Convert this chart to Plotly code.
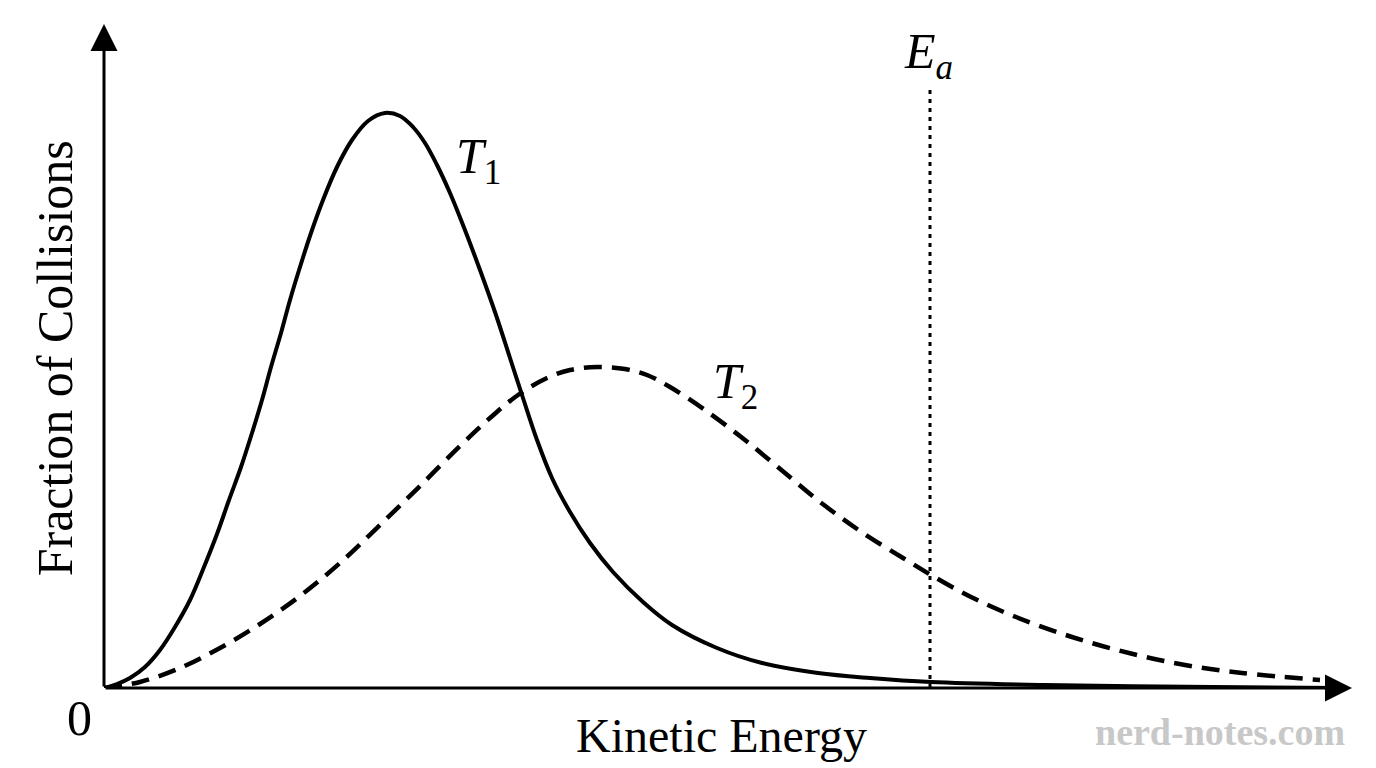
import plotly.graph_objects as go

# curves (energy in arbitrary units)
t1_energy = [0, 0.13, 0.26, 0.41, 0.56, 0.71, 0.86, 1.00, 1.13, 1.25, 1.37, 1.48, 1.58, 1.67,
             1.77, 1.86, 1.96, 2.07, 2.19, 2.33, 2.48, 2.64, 2.81, 2.96, 3.09, 3.21, 3.33,
             3.46, 3.59, 3.76, 3.92, 4.06, 4.19, 4.33, 4.48, 4.66, 4.86, 5.09, 5.39, 5.68,
             6.13, 6.58, 7.14, 7.66, 8.27, 9.40, 11.09, 12.36]
t1_fraction = [0, 0.04, 0.10, 0.21, 0.38, 0.61, 0.88, 1.21, 1.54, 1.88, 2.21, 2.55, 2.88, 3.21,
               3.55, 3.88, 4.21, 4.55, 4.88, 5.21, 5.48, 5.67, 5.75, 5.72, 5.61, 5.45, 5.23,
               4.95, 4.63, 4.18, 3.73, 3.30, 2.90, 2.48, 2.10, 1.76, 1.45, 1.16, 0.86, 0.63,
               0.40, 0.25, 0.15, 0.10, 0.06, 0.03, 0.01, 0.0]

t2_energy = [0, 0.36, 0.76, 1.16, 1.56, 1.96, 2.36, 2.76, 3.16, 3.56, 3.86, 4.14, 4.43, 4.66,
             4.93, 5.21, 5.43, 5.66, 6.01, 6.41, 6.81, 7.20, 7.59, 7.99, 8.27, 8.67, 9.12,
             9.68, 10.25, 10.81, 11.38, 12.16]
t2_fraction = [0, 0.06, 0.20, 0.40, 0.64, 0.92, 1.25, 1.63, 2.02, 2.42, 2.70, 2.93, 3.10, 3.18,
               3.21, 3.19, 3.13, 3.01, 2.78, 2.48, 2.15, 1.83, 1.55, 1.30, 1.13, 0.91, 0.71,
               0.51, 0.35, 0.23, 0.15, 0.08]

ea_energy = 8.26
ea_top = 5.98

x_max = 12.48
y_max = 6.64

serif = "Liberation Serif"

fig = go.Figure()

fig.add_trace(go.Scatter(
    x=t1_energy, y=t1_fraction, mode='lines',
    line=dict(color='black', width=4, shape='spline', smoothing=1.0),
    cliponaxis=False, name='T1'
))
fig.add_trace(go.Scatter(
    x=t2_energy, y=t2_fraction, mode='lines',
    line=dict(color='black', width=4.5, dash='18px,10px', shape='spline', smoothing=1.0),
    cliponaxis=False, name='T2'
))
fig.add_trace(go.Scatter(
    x=[ea_energy, ea_energy], y=[0, ea_top], mode='lines',
    line=dict(color='black', width=3, dash='4px,5px'),
    cliponaxis=False, name='Ea'
))

# axes drawn as arrows
fig.add_annotation(x=x_max, y=0, ax=0, ay=0, xref='x', yref='y', axref='x', ayref='y',
                   text='', showarrow=True, arrowhead=2, arrowsize=1.8, arrowwidth=3,
                   arrowcolor='black', standoff=0)
fig.add_annotation(x=0, y=y_max, ax=0, ay=0, xref='x', yref='y', axref='x', ayref='y',
                   text='', showarrow=True, arrowhead=2, arrowsize=1.8, arrowwidth=3,
                   arrowcolor='black', standoff=0)

big = dict(family=serif, size=50, color='black')

fig.add_annotation(x=3.74, y=5.28, text='<i>T</i><sub>1</sub>', showarrow=False, font=big)
fig.add_annotation(x=6.31, y=3.03, text='<i>T</i><sub>2</sub>', showarrow=False, font=big)
fig.add_annotation(x=8.24, y=6.33, text='<i>E</i><sub><i>a</i></sub>', showarrow=False, font=big)

paper_text = dict(xref='paper', yref='paper', xanchor='center', yanchor='middle',
                  showarrow=False)
fig.add_annotation(x=-0.020, y=-0.045, text='0', font=big, **paper_text)
fig.add_annotation(x=0.495, y=-0.072, text='Kinetic Energy',
                   font=dict(family=serif, size=48, color='black'), **paper_text)
fig.add_annotation(x=-0.039, y=0.497, text='Fraction of Collisions', textangle=-90,
                   font=big, **paper_text)
fig.add_annotation(x=0.894, y=-0.066, text='<b>nerd-notes.com</b>',
                   font=dict(family=serif, size=38, color='#c8c8c8'), **paper_text)

fig.update_layout(
    width=1376, height=768,
    margin=dict(l=104, r=24, t=24, b=80),
    paper_bgcolor='white', plot_bgcolor='white',
    showlegend=False,
    xaxis=dict(range=[0, x_max], visible=False),
    yaxis=dict(range=[0, y_max], visible=False),
)

# drop the default body margin so the figure fills the window exactly
fig.write_html("out.html", config={'displayModeBar': False},
               post_script="document.body.style.margin = '0';")
